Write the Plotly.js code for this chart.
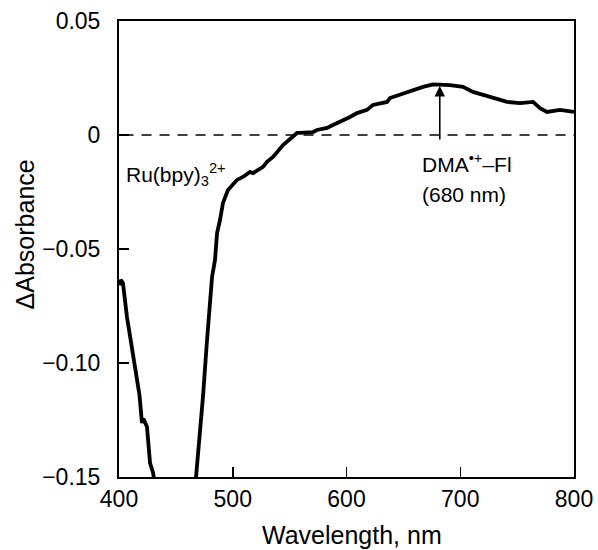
<!DOCTYPE html>
<html>
<head>
<meta charset="utf-8">
<script src="https://cdn.plot.ly/plotly-3.0.1.min.js"></script>
<style>html,body{margin:0;padding:0;background:#fff;}#chart{width:598px;height:550px;}</style>
</head>
<body>
<div id="chart"></div>
<script>
// Segment 1 (short-wavelength edge, goes off-scale below -0.15)
const wl1 = [400.5, 401.5, 403.5, 405, 407, 409, 411.4, 413.5, 415.8, 418, 420.2, 421.5, 424.6, 426, 427.3, 430, 433];
const abs1 = [-0.066, -0.0635, -0.065, -0.072, -0.0798, -0.086, -0.093, -0.101, -0.1075, -0.114, -0.1263, -0.1245, -0.128, -0.137, -0.1439, -0.1482, -0.16];

// Segment 2 (recovering from off-scale, broad DMA•+–Fl band)
const wl2 = [466, 467.7, 471.2, 473.8, 477.4, 480.0, 481.8, 484.4, 486.2, 488.8, 491.4, 495.8, 503.7, 509.0, 515.2, 517.8, 526.6, 530.1, 535.4, 544.2, 553.0, 556.5, 559.1, 570.5, 574.1, 582.9, 588.1, 594.3, 603.1, 609.2, 618.0, 623.3, 635.6, 638.2, 653.2, 667.3, 676.0, 683, 691.0, 702.4, 711.2, 726.2, 741.1, 752.5, 764.0, 770.1, 776.3, 787.7, 793, 800];
const abs2 = [-0.16, -0.150, -0.1325, -0.1149, -0.0899, -0.0724, -0.0623, -0.0548, -0.0430, -0.0373, -0.0298, -0.0241, -0.0197, -0.0184, -0.0162, -0.0167, -0.0140, -0.0118, -0.0096, -0.0044, -0.0009, 0.0009, 0.0009, 0.0013, 0.0022, 0.0031, 0.0044, 0.0057, 0.0079, 0.0096, 0.0110, 0.0132, 0.0145, 0.0162, 0.0189, 0.0211, 0.0222, 0.0222, 0.0219, 0.0211, 0.0189, 0.0167, 0.0145, 0.0140, 0.0145, 0.0118, 0.0101, 0.0110, 0.0105, 0.0101];

const xTickVals = [400, 500, 600, 700, 800];
const xTickText = ['400', '500', '600', '700', '800'];
const yTickVals = [0.05, 0, -0.05, -0.10, -0.15];
const yTickText = ['0.05', '0', '\u22120.05', '\u22120.10', '\u22120.15'];

const font = 'Liberation Sans, Arial, Helvetica, sans-serif';

const traces = [
  {x: wl1, y: abs1, type: 'scatter', mode: 'lines', line: {color: '#000', width: 3.8}, hoverinfo: 'skip'},
  {x: wl2, y: abs2, type: 'scatter', mode: 'lines', line: {color: '#000', width: 3.8}, hoverinfo: 'skip'}
];

const layout = {
  width: 598, height: 550,
  margin: {l: 119, r: 24, t: 21, b: 73},
  paper_bgcolor: '#fff', plot_bgcolor: '#fff',
  showlegend: false,
  font: {family: font, color: '#000', size: 22},
  xaxis: {
    range: [400, 800], tickvals: xTickVals, ticktext: xTickText,
    ticks: 'inside', ticklen: 10, tickwidth: 1.5, tickcolor: '#000',
    showline: true, linewidth: 2, linecolor: '#000', mirror: true,
    showgrid: false, zeroline: false,
    tickfont: {size: 23, family: font}
  },
  yaxis: {
    range: [-0.15, 0.05], tickvals: yTickVals, ticktext: yTickText,
    ticks: 'inside', ticklen: 10, tickwidth: 1.5, tickcolor: '#000',
    showline: true, linewidth: 2, linecolor: '#000', mirror: true,
    showgrid: false, zeroline: false,
    tickfont: {size: 23, family: font},
    ticklabelstandoff: 12
  },
  shapes: [
    {type: 'line', xref: 'x', yref: 'y', x0: 404, x1: 800, y0: 0, y1: 0,
     line: {color: '#000', width: 1.5, dash: '10px,8px'}}
  ],
  annotations: [
    {xref: 'paper', yref: 'paper', x: 0.512, y: -0.127, yanchor: 'middle', xanchor: 'center',
     text: 'Wavelength, nm', showarrow: false, font: {size: 25, family: font}},
    {xref: 'paper', yref: 'paper', x: -0.2066, y: 0.532, yanchor: 'middle', xanchor: 'center',
     text: '\u0394Absorbance', textangle: -90, showarrow: false, font: {size: 25, family: font}},
    {xref: 'x', yref: 'y', x: 404.5, y: -0.0175, xanchor: 'left', yanchor: 'middle',
     text: 'Ru(bpy)<sub>3</sub><sup>2+</sup>', showarrow: false, font: {size: 21, family: font}},
    {xref: 'x', yref: 'y', x: 664.6, y: -0.0123, xanchor: 'left', yanchor: 'middle',
     text: 'DMA<sup>\u2022+</sup>\u2013Fl', showarrow: false, font: {size: 21, family: font}},
    {xref: 'x', yref: 'y', x: 664.6, y: -0.0259, xanchor: 'left', yanchor: 'middle',
     text: '(680 nm)', showarrow: false, font: {size: 21, family: font}},
    {xref: 'x', yref: 'y', x: 682, y: 0.0215, axref: 'x', ayref: 'y', ax: 682, ay: -0.0026,
     text: '', showarrow: true, arrowhead: 2, arrowsize: 1.3, arrowwidth: 1.6, arrowcolor: '#000', standoff: 0, startstandoff: 0}
  ]
};

Plotly.newPlot('chart', traces, layout, {displayModeBar: false, staticPlot: true});
</script>
</body>
</html>
